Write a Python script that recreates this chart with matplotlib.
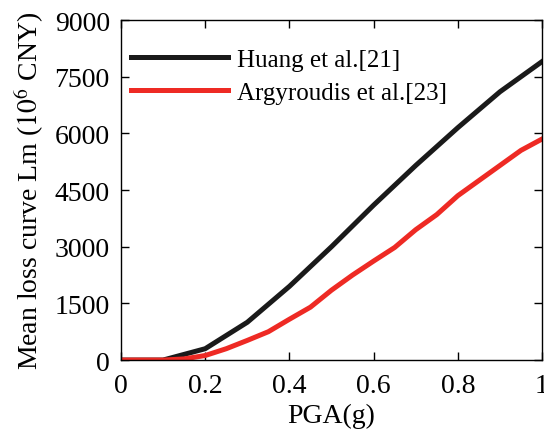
import numpy as np
import matplotlib
matplotlib.use('Agg')
import matplotlib.pyplot as plt

pga_huang = [0, 0.1, 0.2, 0.3, 0.4, 0.5, 0.6, 0.7, 0.8, 0.9, 1.0]
loss_huang = [0, 0, 300, 1000, 1950, 3000, 4100, 5150, 6150, 7100, 7900]

pga_arg = [0, 0.1, 0.15, 0.2, 0.25, 0.3, 0.35, 0.4, 0.45, 0.5, 0.55, 0.6, 0.65,
           0.7, 0.75, 0.8, 0.85, 0.9, 0.95, 1.0]
loss_arg = [0, 0, 30, 120, 300, 520, 750, 1080, 1400, 1850, 2250, 2620, 2980,
            3450, 3850, 4350, 4750, 5150, 5550, 5850]

plt.rcParams['font.family'] = 'Liberation Serif'
plt.rcParams['mathtext.fontset'] = 'stix'

fig = plt.figure(figsize=(5.44, 4.35), dpi=100)
ax = fig.add_axes([0.2224, 0.170, 0.774, 0.7817])

ax.plot(pga_huang, loss_huang, color='#1a1a1a', lw=3.6, label='Huang et al.[21]')
ax.plot(pga_arg, loss_arg, color='#ee2a24', lw=3.6, label='Argyroudis et al.[23]')

ax.set_xlim(0, 1)
ax.set_ylim(0, 9000)
ax.set_xticks([0, 0.2, 0.4, 0.6, 0.8, 1])
ax.set_xticklabels(['0', '0.2', '0.4', '0.6', '0.8', '1'])
ax.set_yticks(np.arange(0, 9001, 1500))
ax.tick_params(direction='in', top=True, right=True, labelsize=20, length=6, width=1)
ax.tick_params(axis='x', pad=9)
ax.tick_params(axis='y', pad=8)
for s in ax.spines.values():
    s.set_linewidth(1)

ax.set_xlabel('PGA(g)', fontsize=20, labelpad=4)
ax.set_ylabel('Mean loss curve Lm ($10^6$ CNY)', fontsize=20, labelpad=6)
ax.legend(loc='upper left', frameon=False, fontsize=18, handlelength=3.9,
          handletextpad=0.36, labelspacing=0.4, borderaxespad=0.0,
          bbox_to_anchor=(0.0, 0.945))

fig.savefig('out.png', dpi=100)
